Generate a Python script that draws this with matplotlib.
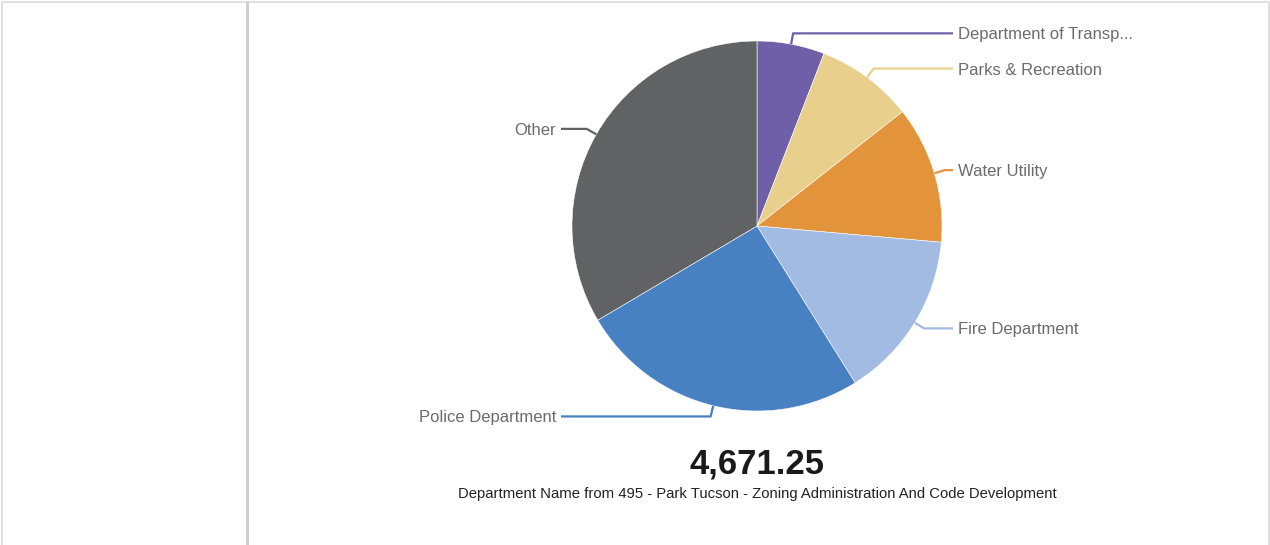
import numpy as np
import matplotlib
matplotlib.use("Agg")
from matplotlib import pyplot as plt

labels = ['Department of Transp...', 'Parks & Recreation', 'Water Utility',
          'Fire Department', 'Police Department', 'Other']
shares = [5.9, 8.5, 12.0, 14.7, 25.4, 33.5]
colors = ['#6f5ea8', '#e8cf8c', '#e3943a', '#a2bbe3', '#4781c1', '#616264']
total_text = '4,671.25'
caption = 'Department Name from 495 - Park Tucson - Zoning Administration And Code Development'

W, H = 1270, 545
fig = plt.figure(figsize=(12.7, 5.45), dpi=100)
ax = fig.add_axes([0, 0, 1, 1])

cx, cy, R = 757, H - 226, 185
wedges, _ = ax.pie(shares, colors=colors, startangle=90, counterclock=False,
                   center=(cx, cy), radius=R, frame=True,
                   wedgeprops=dict(edgecolor='white', linewidth=0.4))
ax.set_xlim(0, W)
ax.set_ylim(0, H)
ax.set_aspect('equal')
ax.axis('off')

# frame and divider
ax.plot([1.5, 1.5, W - 1.5, W - 1.5], [0, H - 1.5, H - 1.5, 0], color='#dcdcdc', lw=1.2)
ax.plot([247, 247], [0, H - 1.5], color='#cdcdcd', lw=2)

for w, lab, col in zip(wedges, labels, colors):
    mid = np.deg2rad((w.theta1 + w.theta2) / 2)
    x0, y0 = cx + R * np.cos(mid), cy + R * np.sin(mid)
    x1, y1 = cx + (R + 11) * np.cos(mid), cy + (R + 11) * np.sin(mid)
    if np.cos(mid) >= 0:
        x2, xt, ha = cx + 196, cx + 201, 'left'
    else:
        x2, xt, ha = cx - 196, cx - 201, 'right'
    ax.plot([x0, x1, x2], [y0, y1, y1], color=col, lw=1.6, solid_capstyle='butt')
    ax.text(xt, y1, lab, ha=ha, va='center_baseline', fontsize=12, color='#6b6b6b',
            family=['Liberation Sans', 'DejaVu Sans'])

ax.text(cx, H - 464, total_text, ha='center', va='center', fontsize=25, fontweight='bold',
        color='#1a1a1a', family=['Liberation Sans Narrow', 'Liberation Sans', 'DejaVu Sans'])
ax.text(cx, H - 494, caption, ha='center', va='center', fontsize=10.7,
        color='#222222', family=['Liberation Sans Narrow', 'Liberation Sans', 'DejaVu Sans'])

fig.savefig('out.png', dpi=100)
